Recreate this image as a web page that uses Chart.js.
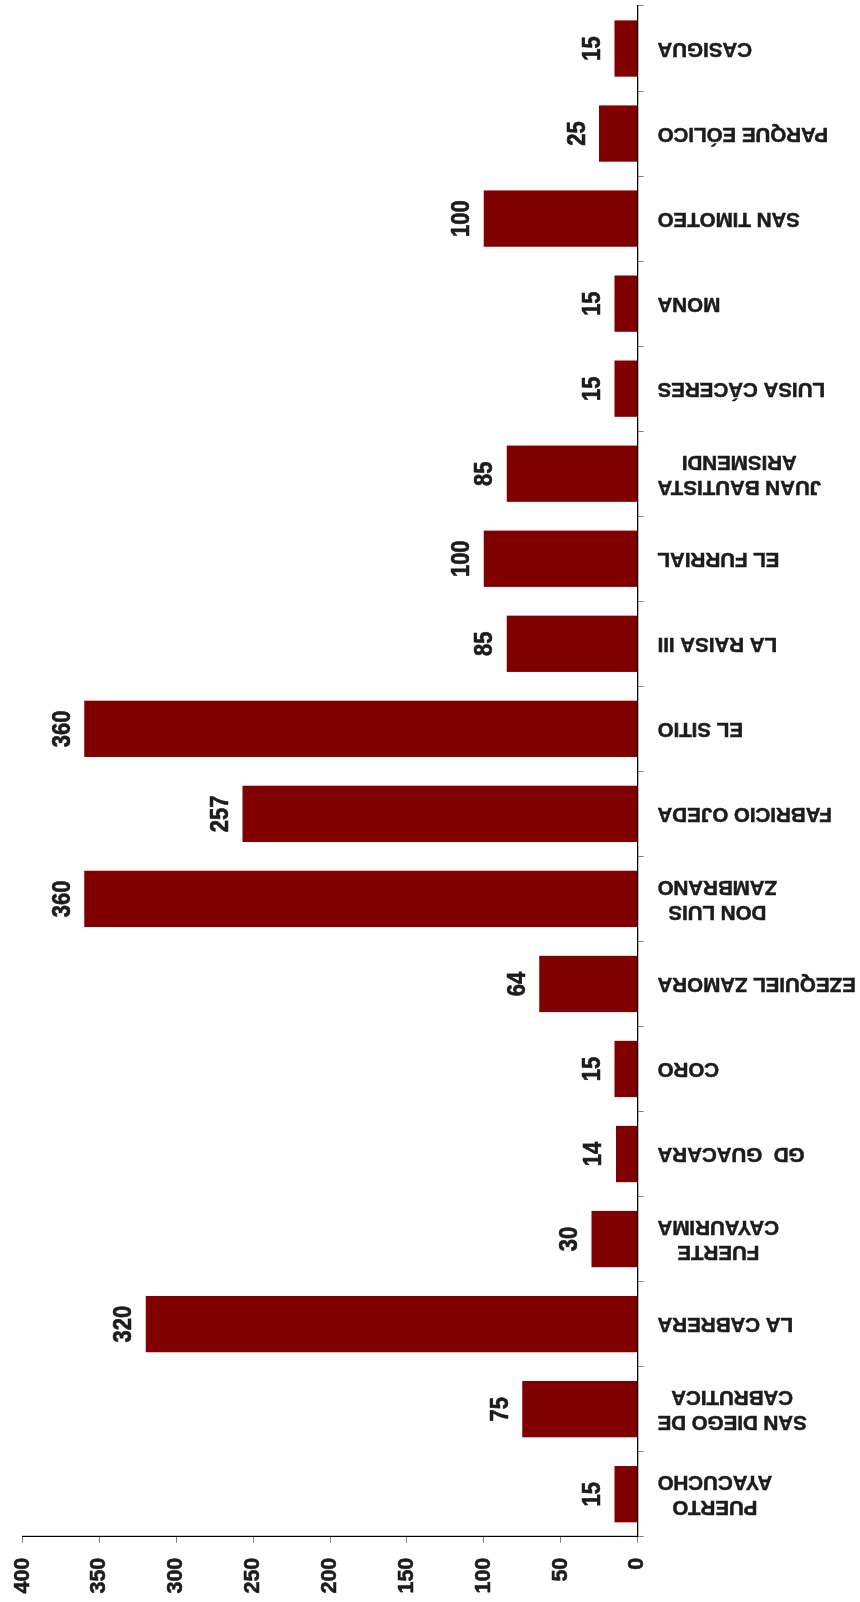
<!DOCTYPE html>
<html><head><meta charset="utf-8">
<script src="https://cdn.jsdelivr.net/npm/chart.js@4.4.1/dist/chart.umd.min.js"></script>
<style>
html,body{margin:0;padding:0;background:#fff;width:860px;height:1602px;overflow:hidden;}
#wrap{position:absolute;left:0;top:0;width:1602px;height:860px;transform-origin:0 0;transform:translateY(1602px) rotate(-90deg);}
canvas{display:block}
</style></head><body>
<div id="wrap"><canvas id="c" width="1602" height="860"></canvas></div>
<script>
// Categories (each entry = lines of the label), in order along the category axis
const categories = [
  ["PUERTO","AYACUCHO"],
  ["SAN DIEGO DE","CABRUTICA"],
  ["LA CABRERA"],
  ["FUERTE","CAYAURIMA"],
  ["GD  GUACARA"],
  ["CORO"],
  ["EZEQUIEL ZAMORA"],
  ["DON LUIS","ZAMBRANO"],
  ["FABRICIO OJEDA"],
  ["EL SITIO"],
  ["LA RAISA III"],
  ["EL FURRIAL"],
  ["JUAN BAUTISTA","ARISMENDI"],
  ["LUISA CÁCERES"],
  ["MONA"],
  ["SAN TIMOTEO"],
  ["PARQUE EÓLICO"],
  ["CASIGUA"]
];
const values = [15,75,320,30,14,15,64,360,257,360,85,100,85,15,15,100,25,15];
const valueTicks = [0,50,100,150,200,250,300,350,400];

const FONT = '"Liberation Sans", Arial, sans-serif';
const TEXT = '#1c1c1c';

const catLabelPlugin = {
  id: 'catLabels',
  afterDraw(chart) {
    const xs = chart.scales.x;
    const ctx = chart.ctx;
    ctx.save();
    ctx.font = 'bold 20.5px ' + FONT;
    ctx.fillStyle = TEXT;
    ctx.strokeStyle = TEXT;
    ctx.lineWidth = 0.5;
    ctx.textBaseline = 'middle';
    ctx.textAlign = 'center';
    const anchorY = xs.top + 20;
    categories.forEach((lines, i) => {
      const px = xs.getPixelForValue(i);
      const maxW = Math.max(...lines.map(l => ctx.measureText(l).width));
      ctx.save();
      ctx.translate(px, anchorY);
      ctx.rotate(-Math.PI / 2);
      lines.forEach((l, j) => {
        const off = (j - (lines.length - 1) / 2) * 25;
        ctx.fillText(l, -maxW / 2, off);
        ctx.strokeText(l, -maxW / 2, off);
      });
      ctx.restore();
    });
    ctx.restore();
  }
};

const valueLabelPlugin = {
  id: 'valueLabels',
  afterDatasetsDraw(chart) {
    const ctx = chart.ctx;
    const meta = chart.getDatasetMeta(0);
    ctx.save();
    ctx.font = 'bold 22px ' + FONT;
    ctx.fillStyle = TEXT;
    ctx.strokeStyle = TEXT;
    ctx.lineWidth = 0.6;
    ctx.textAlign = 'center';
    ctx.textBaseline = 'alphabetic';
    meta.data.forEach((bar, i) => {
      ctx.save();
      ctx.translate(bar.x, bar.y - 14.5);
      ctx.scale(1, 1.13);
      ctx.fillText(String(values[i]), 0, 0);
      ctx.strokeText(String(values[i]), 0, 0);
      ctx.restore();
    });
    ctx.restore();
  }
};

new Chart(document.getElementById('c'), {
  type: 'bar',
  data: {
    labels: categories.map(l => l.join(' ')),
    datasets: [{
      data: values,
      backgroundColor: '#800000',
      borderWidth: 0,
      barPercentage: 0.662,
      categoryPercentage: 1
    }]
  },
  options: {
    responsive: false,
    animation: false,
    devicePixelRatio: 1,
    layout: { padding: { left: 0, right: 6, top: 22.7, bottom: 0 } },
    plugins: { legend: { display: false }, tooltip: { enabled: false } },
    scales: {
      x: {
        ticks: { display: false },
        grid: { drawOnChartArea: false, drawTicks: true, tickLength: 6, color: '#808080', offset: true },
        border: { display: true, color: '#000', width: 1.2 },
        afterFit(s) { s.height = 222.5; s.paddingLeft = 0; s.paddingRight = 0; }
      },
      y: {
        min: 0, max: 400,
        afterBuildTicks(s) { s.ticks = valueTicks.map(v => ({ value: v })); },
        ticks: { font: { family: FONT, size: 21.5, weight: 'bold' }, color: TEXT, padding: 15, textStrokeColor: TEXT, textStrokeWidth: 0.6 },
        grid: { drawOnChartArea: false, drawTicks: true, tickLength: 6, color: '#808080' },
        border: { display: true, color: '#000', width: 1.2 },
        afterFit(s) { s.width = 65.3; s.paddingTop = 0; s.paddingBottom = 0; }
      }
    }
  },
  plugins: [catLabelPlugin, valueLabelPlugin]
});
</script>
</body></html>
